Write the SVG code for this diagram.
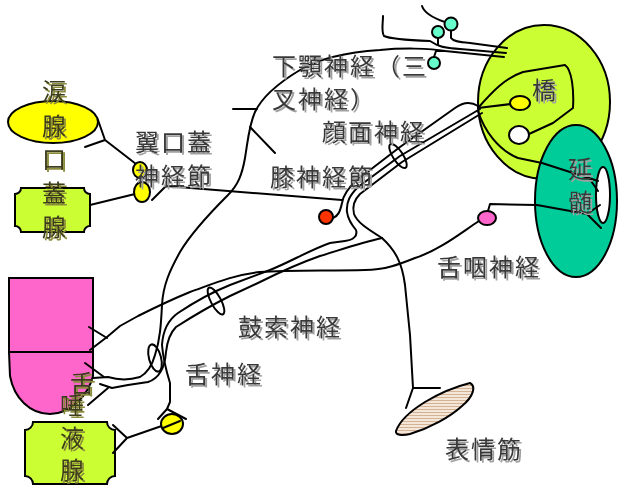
<svg xmlns="http://www.w3.org/2000/svg" width="621" height="486" viewBox="0 0 621 486">
  <style>
    .nerve { fill: none; stroke: #000; stroke-width: 2; stroke-linejoin: round; stroke-linecap: round; }
    .shape { stroke: #000; stroke-width: 2; }
    .label { font-family: "Noto Sans CJK JP", "Noto Sans CJK SC", sans-serif; font-size: 24px; fill: #383838; letter-spacing: 2px; }
    .gland-label { font-family: "Noto Sans CJK JP", "Noto Sans CJK SC", sans-serif; font-size: 24px; fill: #3c3c1e; }
  </style>
  <defs>
    <filter id="shadow" x="-10%" y="-10%" width="130%" height="140%">
      <feOffset in="SourceAlpha" dx="2" dy="2" result="off"/>
      <feFlood flood-color="#a0a0a0"/>
      <feComposite in2="off" operator="in" result="sh"/>
      <feMerge><feMergeNode in="sh"/><feMergeNode in="SourceGraphic"/></feMerge>
    </filter>
    <filter id="shadowOlive" x="-10%" y="-10%" width="140%" height="140%">
      <feOffset in="SourceAlpha" dx="2" dy="2" result="off"/>
      <feFlood flood-color="#8c8c3c"/>
      <feComposite in2="off" operator="in" result="sh"/>
      <feMerge><feMergeNode in="sh"/><feMergeNode in="SourceGraphic"/></feMerge>
    </filter>
    <pattern id="stripes" width="6" height="3" patternUnits="userSpaceOnUse">
      <rect width="6" height="3" fill="#f4e6d8"/>
      <line x1="0" y1="1.5" x2="6" y2="1.5" stroke="#d4b294" stroke-width="1"/>
    </pattern>
  </defs>

  <rect width="621" height="486" fill="#fff"/>

  <!-- brainstem -->
  <g id="pons">
    <ellipse class="shape" cx="544" cy="102" rx="66" ry="77" fill="#CCFF33"/>
  </g>
  <g id="medulla">
    <ellipse class="shape" cx="576" cy="201" rx="41" ry="76" fill="#00CC99"/>
    <ellipse class="shape" cx="603" cy="195" rx="7" ry="28" fill="#fff"/>
  </g>

  <!-- glands and targets -->
  <g id="lacrimal-gland">
    <ellipse class="shape" cx="53" cy="122" rx="45" ry="21" fill="#FFFF00"/>
  </g>
  <g id="palatine-gland">
    <path class="shape" fill="#CCFF33" d="M21,188 L84,188 A6,6 0 0 0 90,194 L90,226 A6,6 0 0 0 84,232 L21,232 A6,6 0 0 0 15,226 L15,194 A6,6 0 0 0 21,188 Z"/>
  </g>
  <g id="tongue">
    <rect class="shape" x="9" y="278" width="84" height="74" fill="#FF66CC"/>
    <path class="shape" fill="#FF66CC" d="M9,352 L93,352 L93,376 C88,396 70,414 50,414 C30,414 14,398 10,376 Z"/>
  </g>
  <g id="salivary-gland">
    <path class="shape" fill="#CCFF33" d="M33,422 L107,422 A8,8 0 0 0 115,430 L115,476 A8,8 0 0 0 107,484 L33,484 A8,8 0 0 0 25,476 L25,430 A8,8 0 0 0 33,422 Z"/>
  </g>
  <g id="facial-muscle">
    <path class="shape" fill="url(#stripes)" d="M396,431 C400,420 412,410 425,402 C440,393 458,386 470,383 C476,386 474,396 462,406 C450,417 430,428 410,434 C402,436 395,435 396,431 Z"/>
  </g>

  <!-- connectors -->
  <g id="connectors" class="nerve">
    <!-- trigeminal branches near the pons -->
    <path d="M422,6 C424,12 430,17 445,22"/>
    <path d="M451,31 L451,38 C453,41 458,42 470,43 L507,48"/>
    <path d="M438,38 L438,45 C440,47 446,48 460,49 L506,53"/>
    <path d="M434,57 L436,51 L445,51"/>
    <path d="M383,16 C383,24 381,31 384,36 C390,39 405,40 430,41 L437,45"/>
    <!-- mandibular nerve down to the tongue (lingual) -->
    <path d="M504,57 L445,51 C430,48 400,48 380,50 C350,52 320,58 300,70 C280,82 262,97 255,112 C249,125 248,140 245,158 C242,175 238,185 228,195 C210,213 190,235 180,252 C170,270 163,285 162,305 C161,325 160,340 155,355 C152,366 147,373 140,377 C130,380 118,380 108,377 L93,378"/>
    <path d="M233,109 L257,109"/>
    <path d="M250,127 L275,153"/>

    <!-- facial nerve bundle, pons to geniculate -->
    <path d="M478,106 C470,101 462,103 455,108 L400,147 L357,180 C347,189 343,196 342,203 C340,212 338,216 333,218"/>
    <path d="M480,109 L400,156 L358,187 C350,195 346,202 347,212 C348,220 352,225 356,230 C358,236 353,240 345,241 L330,243 C310,250 290,262 270,270 L230,285 C210,293 190,305 178,313 C168,320 163,330 162,345 C163,358 166,370 170,383 L170,402 L167,409"/>
    <path d="M158,419 L167,409 L186,419"/>
    <path d="M482,113 L402,162 L360,194 C354,200 352,206 354,214 C357,222 366,228 382,238"/>
    <!-- chorda tympani outer line into the tongue -->
    <path d="M382,238 C360,243 340,250 320,256 C300,263 280,272 260,282 L230,296 C210,306 190,318 176,327 C169,334 167,343 166,352 C165,366 160,378 148,382 L128,385 L112,388 L100,384"/>
    <path d="M85,363 L104,377"/>
    <path d="M88,405 L108,388"/>
    <!-- facial motor branch to the mimic muscles -->
    <path d="M382,238 C395,250 402,262 405,285 L410,335 L413,388 L440,388 M413,388 L406,408"/>

    <!-- greater petrosal nerve and pterygopalatine connections -->
    <path d="M152,200 L166,186 L342,200"/>
    <path d="M85,147 L105,140 L98,120 M105,140 L136,164"/>
    <path d="M90,205 L135,194"/>
    <!-- submandibular ganglion to salivary gland -->
    <path d="M176,421 L127,438 M113,425 L127,438 L113,453"/>

    <!-- glossopharyngeal nerve -->
    <path d="M479,221 C462,232 440,250 415,258 C400,264 385,270 365,270 C330,271 290,270 260,272 C232,275 210,285 190,292 C168,301 150,310 138,316 L120,326 L107,337 L90,350"/>
    <path d="M89,327 L107,338"/>
    <path d="M488,211 L490,204 L537,205 L587,214 L601,228 M587,214 L600,205"/>

    <!-- pathways inside the brainstem -->
    <path d="M478,108 C492,92 505,78 523,72 L565,65 C572,70 574,90 573,108 L553,123 L529,134"/>
    <path d="M478,108 L511,104"/>
    <path d="M478,111 C484,130 498,150 518,158 L542,163 L598,181 M589,178 L598,191"/>

    <!-- rings marking the nerve sections -->
    <ellipse cx="398" cy="156" rx="5" ry="14" transform="rotate(-33 398 156)"/>
    <ellipse cx="216" cy="301" rx="5" ry="15" transform="rotate(-28 216 301)"/>
    <ellipse cx="155" cy="358" rx="6" ry="14" transform="rotate(-15 155 358)"/>
  </g>

  <!-- ganglia and nuclei -->
  <g id="trigeminal-nuclei">
    <circle class="shape" cx="451" cy="24" r="6.5" fill="#66FFCC"/>
    <circle class="shape" cx="438" cy="32" r="6" fill="#66FFCC"/>
    <circle class="shape" cx="434" cy="63" r="6" fill="#66FFCC"/>
  </g>
  <g id="pons-nuclei">
    <ellipse class="shape" cx="520" cy="103" rx="10" ry="7" fill="#FFFF00"/>
    <ellipse class="shape" cx="519" cy="135" rx="10" ry="9" fill="#fff"/>
  </g>
  <g id="glossopharyngeal-ganglion">
    <ellipse class="shape" cx="487" cy="218" rx="9" ry="7" fill="#FF66CC"/>
  </g>
  <g id="geniculate-ganglion">
    <circle class="shape" cx="326" cy="217" r="7" fill="#FF3300"/>
  </g>
  <g id="pterygopalatine-ganglion">
    <ellipse class="shape" cx="140" cy="170" rx="7" ry="8" fill="#FFFF00"/>
    <ellipse class="shape" cx="142" cy="192" rx="8" ry="10" fill="#FFFF00"/>
  </g>
  <g id="submandibular-ganglion">
    <ellipse class="shape" cx="172" cy="424" rx="11" ry="10" fill="#FFFF00"/>
    <path class="nerve" d="M163,428 L180,421"/>
  </g>

  <!-- labels -->
  <g id="labels" class="label" filter="url(#shadow)">
    <text x="272" y="75">下顎神経（三</text>
    <text x="272" y="108">叉神経）</text>
    <text x="322" y="141">顔面神経</text>
    <text x="270" y="186">膝神経節</text>
    <text x="135" y="151">翼口蓋</text>
    <text x="135" y="185">神経節</text>
    <text x="238" y="336">鼓索神経</text>
    <text x="185" y="383">舌神経</text>
    <text x="437" y="276">舌咽神経</text>
    <text x="445" y="458">表情筋</text>
    <text x="532" y="99">橋</text>
    <text x="568" y="178">延</text>
    <text x="568" y="211">髄</text>
  </g>
  <g id="gland-labels" class="gland-label" filter="url(#shadowOlive)">
    <text x="42" y="100">涙</text>
    <text x="42" y="135">腺</text>
    <text x="42" y="168">口</text>
    <text x="42" y="202">蓋</text>
    <text x="42" y="236">腺</text>
    <text x="70" y="392">舌</text>
    <text x="60" y="414">唾</text>
    <text x="60" y="447">液</text>
    <text x="60" y="479">腺</text>
  </g>
</svg>
